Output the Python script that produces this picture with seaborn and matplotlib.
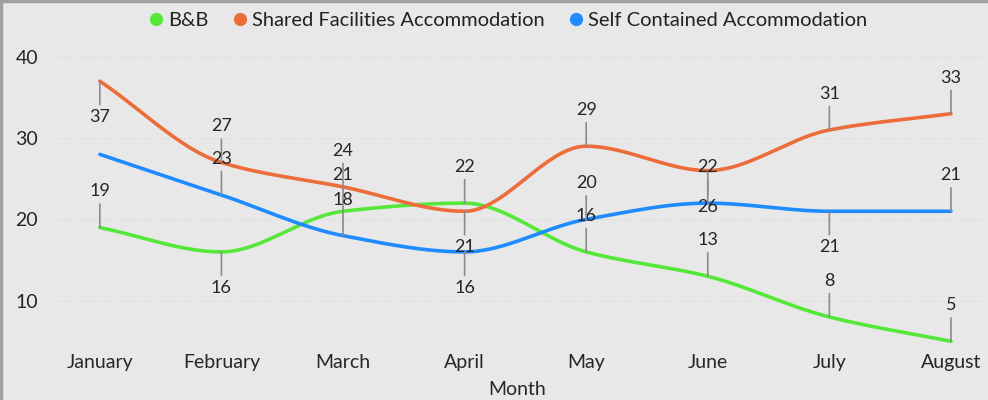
import numpy as np
import pandas as pd
import matplotlib.pyplot as plt
from matplotlib.lines import Line2D
import seaborn as sns

months = ["January", "February", "March", "April", "May", "June", "July", "August"]
bnb = [19, 16, 21, 22, 16, 13, 8, 5]
shared = [37, 27, 24, 21, 29, 26, 31, 33]
self_contained = [28, 23, 18, 16, 20, 22, 21, 21]

series_names = ["B&B", "Shared Facilities Accommodation", "Self Contained Accommodation"]
colors = ["#55e83a", "#ec6d3a", "#1e8cff"]

# where each data label sits: -1 above the point, 1 below, 0 hidden
label_side = {
    "B&B": [-1, 1, -1, -1, -1, -1, -1, -1],
    "Shared Facilities Accommodation": [1, -1, -1, 1, -1, 1, -1, -1],
    "Self Contained Accommodation": [0, -1, -1, 1, -1, -1, 1, -1],
}


def monotone_spline(vals, n=40):
    # shape preserving cubic (pchip style), only used to draw the smooth line
    y = np.asarray(vals, dtype=float)
    k = len(y)
    d = np.diff(y)
    m = np.zeros(k)
    m[0], m[-1] = d[0], d[-1]
    for i in range(1, k - 1):
        if d[i - 1] * d[i] > 0:
            m[i] = 2 / (1 / d[i - 1] + 1 / d[i])
    xs = np.linspace(0, k - 1, (k - 1) * n + 1)
    i = np.minimum(xs.astype(int), k - 2)
    t = xs - i
    h00 = 2 * t ** 3 - 3 * t ** 2 + 1
    h10 = t ** 3 - 2 * t ** 2 + t
    h01 = -2 * t ** 3 + 3 * t ** 2
    h11 = t ** 3 - t ** 2
    ys = h00 * y[i] + h10 * m[i] + h01 * y[i + 1] + h11 * m[i + 1]
    return xs, ys


data = {"B&B": bnb, "Shared Facilities Accommodation": shared,
        "Self Contained Accommodation": self_contained}

frames = []
for name in series_names:
    xs, ys = monotone_spline(data[name])
    frames.append(pd.DataFrame({"x": xs, "value": ys, "series": name}))
curves = pd.concat(frames, ignore_index=True)

sns.set_style("white")
plt.rcParams["font.family"] = ["Lato", "DejaVu Sans"]
bg = "#e8e8e8"
txt = "#262626"

fig = plt.figure(figsize=(9.88, 4.0), dpi=100, facecolor=bg)
ax = fig.add_axes([50 / 988, 1 - 345.4 / 400, 935 / 988, 300.8 / 400], facecolor=bg)

sns.lineplot(data=curves, x="x", y="value", hue="series", hue_order=series_names,
             palette=colors, linewidth=2.6, legend=False, ax=ax, sort=False)

ax.set_xlim(-0.41, 7.28)
ax.set_ylim(4.5, 41.5)
ax.set_yticks([10, 20, 30, 40])
ax.set_xticks(range(len(months)))
ax.set_xticklabels(months)
ax.tick_params(axis="both", length=0, labelsize=14, labelcolor=txt)
ax.tick_params(axis="y", pad=8.5)
ax.tick_params(axis="x", pad=6)
ax.yaxis.grid(True, linestyle=(0, (1, 2)), color="#d6d6d6", linewidth=0.8)
ax.set_axisbelow(True)
for s in ax.spines.values():
    s.set_visible(False)

ax.set_xlabel("Month", fontsize=14, color=txt, labelpad=7.5)
ax.set_ylabel("")

for name in series_names:
    for i, v in enumerate(data[name]):
        side = label_side[name][i]
        if side == 0:
            continue
        ax.annotate(str(v), xy=(i, v), xytext=(0, -26 * side), textcoords="offset points",
                    ha="center", va="center", fontsize=13, color=txt,
                    arrowprops=dict(arrowstyle="-", color="#8a8a8a", lw=1.2,
                                    shrinkA=1, shrinkB=0,
                                    relpos=(0.5, 0.0 if side < 0 else 1.0)),
                    zorder=5)

handles = [Line2D([], [], marker="o", linestyle="", markersize=8.5, color=c) for c in colors]
fig.legend(handles, series_names, loc="center", bbox_to_anchor=(506 / 988, 1 - 20 / 400),
           ncol=3, frameon=False, fontsize=14.5, handletextpad=0.05, columnspacing=1.0,
           handlelength=1.1, labelcolor="#222222")

fig.add_artist(Line2D([0.0015, 0.0015], [0, 1], transform=fig.transFigure, color="#a0a0a0", lw=2.5))
fig.add_artist(Line2D([0, 1], [0.997, 0.997], transform=fig.transFigure, color="#a0a0a0", lw=2.5))

fig.savefig("out.png", dpi=100, facecolor=bg)
